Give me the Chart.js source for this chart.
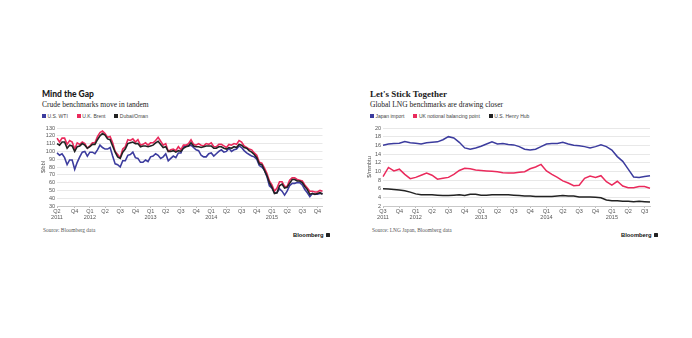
<!DOCTYPE html>
<html>
<head>
<meta charset="utf-8">
<script src="https://cdn.jsdelivr.net/npm/chart.js@4.4.1/dist/chart.umd.min.js"></script>
<style>
  body { margin: 0; background: #fff; width: 692px; height: 338px; position: relative; overflow: hidden; }
  .txt { position: absolute; white-space: nowrap; color: #1a1a1a; }
  .title-sans { font-family: Lato, "Liberation Sans", sans-serif; font-weight: 900; font-size: 8.5px; line-height: 8.5px; }
  .title-serif { font-family: "Liberation Serif", serif; font-weight: bold; font-size: 9px; line-height: 9px; }
  .sub { font-family: "Liberation Serif", serif; font-size: 7.5px; line-height: 7.5px; color: #222; }
  .legend { display: flex; align-items: center; font-family: "Liberation Sans", sans-serif; font-size: 5px; color: #444; height: 6px; }
  .legend span.sq { display: inline-block; width: 4px; height: 4px; margin-right: 1.5px; }
  .legend .item { display: flex; align-items: center; margin-right: 9px; }
  .source { font-family: "Liberation Serif", serif; font-size: 5.4px; line-height: 5.4px; color: #555; }
  .logo { display: flex; align-items: center; font-family: "Liberation Sans", sans-serif; font-weight: bold; font-size: 5.8px; color: #111; }
  .logo .ic { display: inline-block; width: 4px; height: 4px; background: #222; margin-left: 2px; border-radius: 0.5px; }
  canvas { position: absolute; }
</style>
</head>
<body>

<div class="txt title-sans" style="left:42px; top:90px;">Mind the Gap</div>
<div class="txt sub" style="left:42px; top:100.6px;">Crude benchmarks move in tandem</div>
<div class="txt legend" id="crudeLegend" style="left:42px; top:112.5px;"></div>
<canvas id="crudeChart" width="300" height="106" style="left:30px; top:120px; width:300px; height:106px;"></canvas>
<div class="txt source" style="left:43px; top:227.5px;">Source: Bloomberg data</div>
<div class="txt logo" style="left:293px; top:232px;">Bloomberg<span class="ic"></span></div>

<div class="txt title-serif" style="left:370px; top:90.4px;">Let's Stick Together</div>
<div class="txt sub" style="left:370px; top:100.6px;">Global LNG benchmarks are drawing closer</div>
<div class="txt legend" id="lngLegend" style="left:370px; top:112.5px;"></div>
<canvas id="lngChart" width="300" height="106" style="left:360px; top:120px; width:300px; height:106px;"></canvas>
<div class="txt source" style="left:372px; top:227.5px;">Source: LNG Japan, Bloomberg data</div>
<div class="txt logo" style="left:621px; top:232px;">Bloomberg<span class="ic"></span></div>

<script>
// Colours
const BLUE = '#3c3c9e';
const RED = '#ea2a5c';
const BLACK = '#222222';

// ---- Crude data (semi-monthly, mid-Jun 2011 to Nov 2015), $/bbl ----
const crudeNames = ['U.S. WTI', 'U.K. Brent', 'Dubai/Oman'];

const wti = [98, 95, 97, 92, 83, 89, 89, 77, 86, 93, 99, 100, 94,
    99, 99, 97, 102, 108, 105, 103, 103, 105, 94, 84, 83,
    80, 88, 88, 95, 96, 99, 92, 91, 86, 86, 89, 87,
    93, 94, 97, 95, 91, 93, 97, 88, 91, 94, 92, 98,
    98, 106, 107, 107, 108, 105, 102, 101, 95, 93, 93, 97,
    98, 94, 97, 100, 102, 99, 100, 104, 100, 102, 103, 107,
    105, 101, 98, 96, 94, 93, 90, 82, 80, 76, 68, 56,
    53, 47, 47, 52, 49, 44, 49, 56, 59, 59, 60, 60,
    57, 51, 47, 42, 46, 45, 45, 46, 46];

const brent = [117, 112, 117, 117, 109, 114, 112, 103, 111, 109, 112, 110, 104,
    107, 111, 111, 119, 124, 126, 123, 118, 119, 111, 100, 96,
    92, 103, 106, 115, 114, 116, 112, 115, 108, 109, 111, 108,
    111, 111, 114, 118, 113, 108, 110, 100, 102, 103, 101, 106,
    102, 108, 108, 110, 115, 109, 108, 110, 108, 107, 110, 109,
    111, 106, 106, 109, 109, 107, 105, 109, 108, 110, 109, 114,
    112, 107, 105, 103, 102, 98, 95, 86, 85, 79, 72, 62,
    57, 49, 53, 61, 61, 55, 55, 63, 66, 66, 64, 63,
    62, 57, 53, 49, 49, 48, 48, 50, 49];

const dubai = [110, 108, 112, 112, 104, 108, 107, 100, 106, 107, 110, 108, 104,
    106, 109, 109, 115, 120, 123, 121, 116, 115, 107, 99, 93,
    91, 99, 103, 110, 111, 112, 110, 110, 106, 107, 107, 106,
    107, 108, 111, 113, 109, 105, 106, 100, 100, 101, 99, 101,
    100, 104, 106, 107, 111, 107, 106, 106, 105, 106, 107, 107,
    107, 104, 104, 106, 106, 104, 103, 105, 104, 106, 105, 109,
    108, 105, 104, 101, 99, 96, 92, 84, 83, 76, 69, 60,
    54, 46, 47, 56, 58, 53, 54, 59, 64, 64, 62, 62,
    60, 55, 51, 45, 46, 45, 46, 47, 45];

// category labels: 15 Jun 2011, then 1st and 15th of each month
const crudeDates = ['2011-06-15'];
for (let y = 2011; y <= 2015; y++) {
    for (let m = (y === 2011 ? 7 : 1); m <= 12; m++) {
        const mm = String(m).padStart(2, '0');
        crudeDates.push(`${y}-${mm}-01`);
        if (crudeDates.length < wti.length) crudeDates.push(`${y}-${mm}-15`);
        if (crudeDates.length >= wti.length) break;
    }
    if (crudeDates.length >= wti.length) break;
}

const crudeTickDates = ['2011-06-15', '2011-10-01', '2012-01-01', '2012-04-01', '2012-07-01', '2012-10-01',
    '2013-01-01', '2013-04-01', '2013-07-01', '2013-10-01', '2014-01-01', '2014-04-01', '2014-07-01',
    '2014-10-01', '2015-01-01', '2015-04-01', '2015-07-01', '2015-10-01'];
const crudeTickText = [['Q2', '2011'], 'Q4', ['Q1', '2012'], 'Q2', 'Q3', 'Q4', ['Q1', '2013'], 'Q2', 'Q3',
    'Q4', ['Q1', '2014'], 'Q2', 'Q3', 'Q4', ['Q1', '2015'], 'Q2', 'Q3', 'Q4'];

// ---- LNG data (monthly, Jul 2011 to Aug 2015), $/mmbtu ----
const lngNames = ['Japan import', 'UK notional balancing point', 'U.S. Henry Hub'];

const japan = [16.0, 16.3, 16.4, 16.5, 16.9, 16.6, 16.5, 16.3, 16.6, 16.7, 16.8, 17.3,
    18.0, 17.7, 16.7, 15.4, 15.1, 15.4, 15.8, 16.3, 16.8, 16.3, 16.4, 16.2,
    16.1, 15.7, 15.1, 14.9, 15.1, 15.7, 16.3, 16.4, 16.4, 16.7, 16.3, 16.0,
    15.9, 15.7, 15.4, 15.7, 16.1, 15.7, 14.9, 13.4, 12.3, 10.5, 8.7, 8.6,
    8.8, 9.0];

const nbp = [8.8, 10.9, 10.1, 10.5, 9.3, 8.3, 8.6, 9.1, 9.6, 9.1, 8.2, 8.4,
    8.6, 9.3, 10.2, 10.7, 10.6, 10.3, 10.2, 10.1, 10.0, 9.9, 9.7, 9.6,
    9.6, 9.8, 9.9, 10.6, 11.0, 11.6, 10.1, 9.3, 8.6, 7.8, 7.3, 6.7,
    6.8, 8.4, 8.9, 8.6, 9.0, 7.6, 6.8, 7.7, 6.6, 6.2, 6.2, 6.5,
    6.5, 6.1];

const henryHub = [6.0, 5.9, 5.8, 5.7, 5.5, 5.2, 4.8, 4.6, 4.6, 4.6, 4.5, 4.4,
    4.4, 4.5, 4.6, 4.4, 4.7, 4.7, 4.5, 4.5, 4.6, 4.6, 4.6, 4.6,
    4.5, 4.4, 4.3, 4.3, 4.2, 4.2, 4.2, 4.2, 4.3, 4.4, 4.3, 4.3,
    4.1, 4.1, 4.1, 4.0, 3.9, 3.4, 3.2, 3.2, 3.1, 3.1, 3.0, 3.1,
    3.0, 2.9];

const lngMonths = [];
for (let k = 0; k < japan.length; k++) {
    const y = 2011 + Math.floor((6 + k) / 12);
    const m = (6 + k) % 12 + 1;
    lngMonths.push(`${y}-${String(m).padStart(2, '0')}`);
}

const lngTickDates = ['2011-07', '2011-10', '2012-01', '2012-04', '2012-07', '2012-10', '2013-01', '2013-04',
    '2013-07', '2013-10', '2014-01', '2014-04', '2014-07', '2014-10', '2015-01', '2015-04', '2015-07'];
const lngTickText = [['Q3', '2011'], 'Q4', ['Q1', '2012'], 'Q2', 'Q3', 'Q4', ['Q1', '2013'], 'Q2', 'Q3',
    'Q4', ['Q1', '2014'], 'Q2', 'Q3', 'Q4', ['Q1', '2015'], 'Q2', 'Q3'];

// Legends (html)
function buildLegend(id, names, colors) {
    const box = document.getElementById(id);
    names.forEach((n, i) => {
        const item = document.createElement('div');
        item.className = 'item';
        item.innerHTML = `<span class="sq" style="background:${colors[i]}"></span>${n}`;
        box.appendChild(item);
    });
}
buildLegend('crudeLegend', crudeNames, [BLUE, RED, BLACK]);
buildLegend('lngLegend', lngNames, [BLUE, RED, BLACK]);

const tickFont = { family: '"Liberation Sans", sans-serif', size: 5.5, lineHeight: 1.05 };

function lineSet(label, data, color, order, width) {
    return { label: label, data: data, borderColor: color, backgroundColor: color, borderWidth: width,
        pointRadius: 0, tension: 0, order: order };
}

function makeOptions(opt) {
    return {
        responsive: false,
        animation: false,
        layout: { padding: { top: 8, right: opt.padRight, left: 0, bottom: 0 } },
        plugins: { legend: { display: false }, tooltip: { enabled: false } },
        scales: {
            x: {
                type: 'category',
                offset: false,
                grid: { drawOnChartArea: false, tickLength: 2, color: '#bbb' },
                border: { display: true, color: '#c8c8c8' },
                ticks: {
                    autoSkip: false, maxRotation: 0, minRotation: 0, padding: 1,
                    font: tickFont, color: '#555',
                    callback: function (v, i) {
                        const k = opt.tickDates.indexOf(opt.labels[i]);
                        return k >= 0 ? opt.tickText[k] : null;
                    }
                },
                afterFit: s => { s.height = 20; }
            },
            y: {
                min: opt.min, max: opt.max,
                ticks: { stepSize: opt.step, autoSkip: false, padding: 2, font: tickFont, color: '#555' },
                grid: { color: '#e2e2e2', drawTicks: false, lineWidth: 0.8 },
                border: { display: false },
                title: { display: true, text: opt.unit, color: '#555',
                    font: { family: '"Liberation Sans", sans-serif', size: 5.5 },
                    padding: { top: opt.titlePad, bottom: 0 } },
                afterFit: s => { s.width = opt.axisWidth; }
            }
        }
    };
}

new Chart(document.getElementById('crudeChart'), {
    type: 'line',
    data: {
        labels: crudeDates,
        datasets: [
            lineSet(crudeNames[0], wti, BLUE, 2, 1.6),
            lineSet(crudeNames[1], brent, RED, 1, 1.6),
            lineSet(crudeNames[2], dubai, BLACK, 0, 1.6)
        ]
    },
    options: makeOptions({ labels: crudeDates, tickDates: crudeTickDates, tickText: crudeTickText,
        min: 30, max: 130, step: 10, unit: '$/bbl', titlePad: 10, axisWidth: 27, padRight: 7.5 })
});

new Chart(document.getElementById('lngChart'), {
    type: 'line',
    data: {
        labels: lngMonths,
        datasets: [
            lineSet(lngNames[0], japan, BLUE, 0, 1.5),
            lineSet(lngNames[1], nbp, RED, 1, 1.5),
            lineSet(lngNames[2], henryHub, BLACK, 2, 1.5)
        ]
    },
    options: makeOptions({ labels: lngMonths, tickDates: lngTickDates, tickText: lngTickText,
        min: 2, max: 20, step: 2, unit: '$/mmbtu', titlePad: 6, axisWidth: 23, padRight: 10 })
});
</script>
</body>
</html>
